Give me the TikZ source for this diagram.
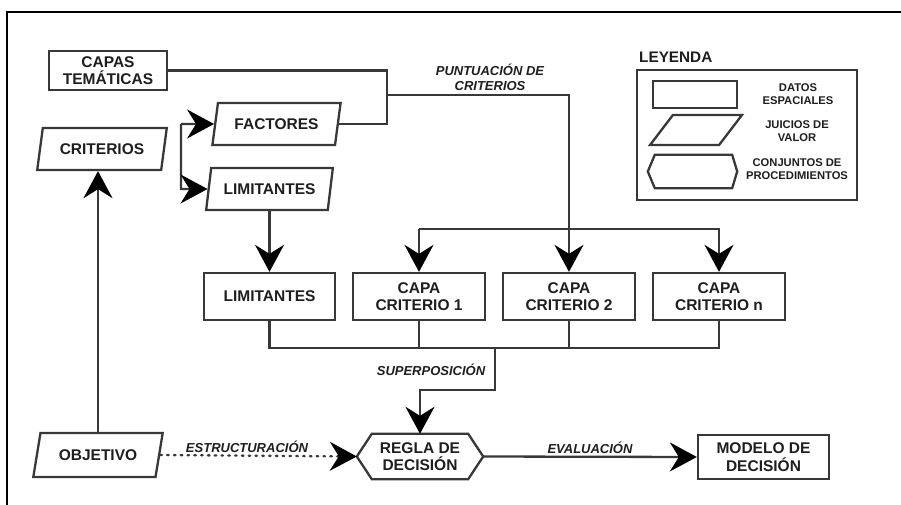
\documentclass[tikz,border=0pt]{standalone}
\usepackage{fontspec}
\setmainfont{Liberation Sans}
\usetikzlibrary{shapes.geometric,arrows.meta,calc}
\definecolor{lc}{HTML}{383838}
\definecolor{tc}{HTML}{1E1E1E}
\begin{document}
\begin{tikzpicture}[x=1pt,y=-1pt,
  ln/.style={draw=lc, line width=2.3pt},
  arr/.style={ln, -{Stealth[length=27pt,width=29pt,inset=9pt,color=black]}},
  mainfont/.style={font=\fontsize{15.5}{17.5}\selectfont\bfseries, text=tc},
  box/.style={ln, rectangle, inner sep=0pt, align=center, mainfont},
  para/.style={ln, trapezium, trapezium left angle=70, trapezium right angle=110,
    trapezium stretches, inner sep=0pt, align=center, mainfont},
  hexnode/.style={rectangle, inner sep=0pt, align=center, mainfont},
  lab/.style={font=\fontsize{13}{15.5}\selectfont\bfseries\itshape, text=tc, align=center, inner sep=0pt},
  legtext/.style={font=\fontsize{11.2}{13}\selectfont\bfseries, text=tc, align=center, inner sep=0pt}]
\useasboundingbox (0,0) rectangle (901,505);
\fill[white] (0,0) rectangle (901,505);
% frame
\draw[black, line width=2.2pt] (7,505) -- (7,12) -- (901,12);

% nodes
\node[box, minimum width=118pt, minimum height=39pt] (cap) at (108,70.5) {CAPAS\\TEMÁTICAS};
\node[para, minimum width=130pt, minimum height=42pt] (cri) at (102,149) {CRITERIOS};
\node[para, minimum width=129pt, minimum height=42pt] (fac) at (276.5,124) {FACTORES};
\node[para, minimum width=127pt, minimum height=42pt] (lim1) at (269.5,189) {LIMITANTES};
\node[box, minimum width=131pt, minimum height=47pt] (limr) at (269.5,296.5) {LIMITANTES};
\node[box, minimum width=132pt, minimum height=47pt] (cc1) at (419,296.5) {CAPA\\CRITERIO 1};
\node[box, minimum width=132pt, minimum height=47pt] (cc2) at (569,296.5) {CAPA\\CRITERIO 2};
\node[box, minimum width=132pt, minimum height=47pt] (ccn) at (719,296.5) {CAPA\\CRITERIO n};
\node[hexnode, minimum width=126pt, minimum height=45pt] (reg) at (420,456.5) {REGLA DE\\DECISIÓN};
\draw[ln] (reg.west) -- ($(reg.north west)+(15,0)$) -- ($(reg.north east)+(-15,0)$) -- (reg.east)
  -- ($(reg.south east)+(-15,0)$) -- ($(reg.south west)+(15,0)$) -- cycle;
\node[para, trapezium left angle=66, trapezium right angle=114, minimum width=130pt, minimum height=44pt] (obj) at (98,455) {OBJETIVO};
\node[box, minimum width=131pt, minimum height=44pt] (mod) at (763.5,457) {MODELO DE\\DECISIÓN};

% labels
\node[lab] (pun) at (490,77.5) {PUNTUACIÓN DE\\CRITERIOS};
\node[lab] (sup) at (431,370) {SUPERPOSICIÓN};
\node[lab] (est) at (247,447) {ESTRUCTURACIÓN};
\node[lab] (eva) at (590,448) {EVALUACIÓN};

% legend
\node[font=\fontsize{15.3}{17}\selectfont\bfseries, text=tc, anchor=west, inner sep=0pt] (leyt) at (639,57) {LEYENDA};
\node[ln, rectangle, minimum width=220pt, minimum height=130pt] (leyb) at (747,135) {};
\node[ln, rectangle, minimum width=84pt, minimum height=27pt] (lrect) at (695,94.5) {};
\node[ln, trapezium, trapezium left angle=59, trapezium right angle=121, trapezium stretches,
  inner sep=0pt, minimum width=92pt, minimum height=30pt] (lpara) at (696,130) {\phantom{M}};
\node[rectangle, inner sep=0pt, minimum width=89pt, minimum height=33pt] (lhex) at (692.5,171.5) {};
\draw[ln] (lhex.west) -- ($(lhex.north west)+(7,0)$) -- ($(lhex.north east)+(-5,0)$) -- (lhex.east)
  -- ($(lhex.south east)+(-5,0)$) -- ($(lhex.south west)+(7,0)$) -- cycle;
\node[legtext] (t1) at (798,94.5) {DATOS\\ESPACIALES};
\node[legtext] (t2) at (797,131) {JUICIOS DE\\VALOR};
\node[legtext] (t3) at (797,169.5) {CONJUNTOS DE\\PROCEDIMIENTOS};

% connectors
\coordinate (j1) at (387,95);
\draw[ln] (cap.east) -| (j1) |- (fac.east);
\draw[arr] (j1) -| (cc2.north);

\coordinate (bt) at (181,124);
\coordinate (bb) at (181,189);
\draw[arr] (bt) -- (fac.west);
\draw[arr] (bt) -- (bb) -- (lim1.west);

\draw[arr] (lim1.south -| limr.north) -- (limr.north);

\coordinate (dl) at ($(cc1.north)+(0,-43)$);
\draw[arr] (dl) -- (cc1.north);
\draw[arr] (dl) -| (ccn.north);

\coordinate (cl) at ($(limr.south)+(0,27)$);
\draw[ln] (limr.south) -- (cl) -| (ccn.south);
\draw[ln] (cc1.south) -- (cc1.south |- cl);
\draw[ln] (cc2.south) -- (cc2.south |- cl);
\coordinate (s1) at (495,347);
\coordinate (s2) at (495,390);
\draw[arr] (s1) -- (s2) -| (reg.north);

\draw[arr] (obj.north) -- (obj.north |- cri.south);
\draw[arr, dash pattern=on 1.6pt off 5.2pt, line cap=round] (obj.east) -- (reg.west);
\draw[arr] (reg.east) -- (mod.west);
\end{tikzpicture}
\end{document}
